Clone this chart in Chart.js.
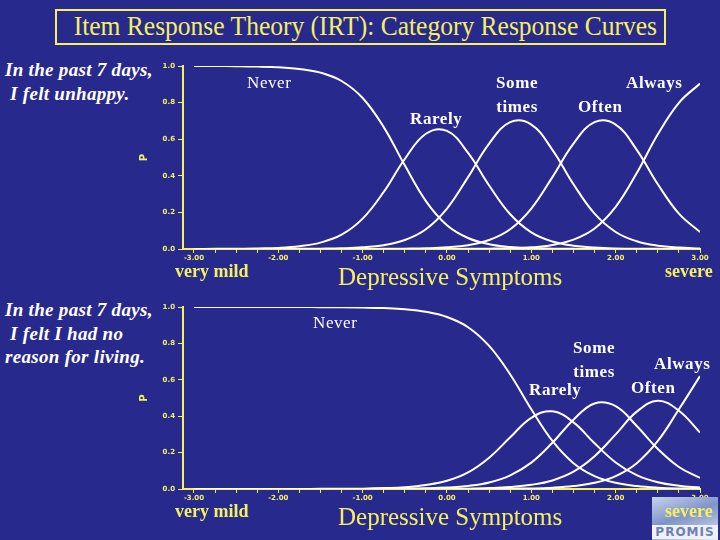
<!DOCTYPE html>
<html lang="en">
<head>
<meta charset="UTF-8">
<title>IRT Category Response Curves</title>
<script src="https://cdn.jsdelivr.net/npm/chart.js"></script>
<style>
    body {
        margin: 0;
        width: 720px;
        height: 540px;
        background: #28298c;
        position: relative;
        overflow: hidden;
        font-family: "Liberation Serif", "DejaVu Serif", serif;
    }
    .abs { position: absolute; white-space: nowrap; }
    #title {
        left: 55px; top: 9px; width: 607px; height: 32px;
        border: 2px solid #f5f060;
    }
    #title span {
        position: absolute; left: 0; top: -1px; width: 607px;
        color: #f5f060;
        font-size: 27px;
        line-height: 32px;
        text-align: center;
        transform: scaleX(0.945);
    }
    .question {
        color: #fff;
        font-weight: bold;
        font-style: italic;
        font-size: 19px;
        line-height: 23.5px;
        letter-spacing: 0.3px;
    }
    .yellow { color: #f5f060; }
    .bold { font-weight: bold; font-size: 18px; }
    .axis-title { font-size: 25px; }
    .curve {
        color: #fff;
        font-weight: bold;
        font-size: 17px;
        line-height: 24px;
        text-align: center;
        letter-spacing: 0.6px;
    }
    canvas { position: absolute; }
    #logo {
        left: 652px; top: 497px; width: 66px; height: 43px;
        background: linear-gradient(160deg, #c8d4ec 0%, #7f93c8 45%, #aab8de 70%, #e8ecf6 100%);
    }
    #logo span {
        position: absolute; left: 0; bottom: 1px; width: 66px;
        text-align: center;
        font-family: "DejaVu Sans", sans-serif;
        font-weight: bold;
        font-size: 12px;
        letter-spacing: 1px;
        color: #6d7fb4;
        background: #eef1f8;
    }
</style>
</head>
<body>

<div id="title" class="abs"><span>Item Response Theory (IRT): Category Response Curves</span></div>

<div class="abs question" style="left:5px; top:58px;">In the past 7 days,<br>&nbsp;I felt unhappy.</div>
<div class="abs question" style="left:5px; top:298px;">In the past 7 days,<br>&nbsp;I felt I had no<br>reason for living.</div>

<canvas id="chart1" width="590" height="215" style="left:130px; top:55px;"></canvas>
<canvas id="chart2" width="590" height="215" style="left:130px; top:295px;"></canvas>

<div id="logo" class="abs"><span>PROMIS</span></div>

<!-- axis captions -->
<div class="abs yellow bold" style="left:175px; top:261px;">very mild</div>
<div class="abs yellow axis-title" style="left:338px; top:263px;">Depressive Symptoms</div>
<div class="abs yellow bold" style="left:665px; top:261px;">severe</div>
<div class="abs yellow bold" style="left:175px; top:501px;">very mild</div>
<div class="abs yellow axis-title" style="left:338px; top:503px;">Depressive Symptoms</div>
<div class="abs yellow bold" style="left:665px; top:501px;">severe</div>

<!-- curve labels, chart 1 -->
<div class="abs curve" style="left:247px; top:71px; font-weight:normal;">Never</div>
<div class="abs curve" style="left:410px; top:107px;">Rarely</div>
<div class="abs curve" style="left:496px; top:71px;">Some<br>times</div>
<div class="abs curve" style="left:578px; top:95px;">Often</div>
<div class="abs curve" style="left:626px; top:71px;">Always</div>

<!-- curve labels, chart 2 -->
<div class="abs curve" style="left:313px; top:311px; font-weight:normal;">Never</div>
<div class="abs curve" style="left:573px; top:336px;">Some<br>times</div>
<div class="abs curve" style="left:654px; top:352px;">Always</div>
<div class="abs curve" style="left:631px; top:376px;">Often</div>
<div class="abs curve" style="left:529px; top:378px;">Rarely</div>

<script>
    // theta grid (depressive symptoms, logits)
    const theta = [-3, -2.75, -2.5, -2.25, -2, -1.75, -1.5, -1.25, -1, -0.75, -0.5, -0.25,
                   0, 0.25, 0.5, 0.75, 1, 1.25, 1.5, 1.75, 2, 2.25, 2.5, 2.75, 3];

    const xTickLabels = ['-3.00', '-2.00', '-1.00', '0.00', '1.00', '2.00', '3.00'];

    // item 1: "I felt unhappy"
    const never1     = [1.000, 1.000, 0.999, 0.997, 0.993, 0.984, 0.964, 0.918, 0.825, 0.666, 0.457, 0.262,
                        0.130, 0.060, 0.026, 0.011, 0.005, 0.002, 0.001, 0.000, 0.000, 0.000, 0.000, 0.000, 0.000];
    const rarely1    = [0.000, 0.001, 0.001, 0.003, 0.006, 0.015, 0.035, 0.078, 0.166, 0.312, 0.492, 0.630,
                        0.645, 0.525, 0.347, 0.190, 0.091, 0.041, 0.018, 0.008, 0.003, 0.001, 0.001, 0.000, 0.000];
    const sometimes1 = [0.000, 0.000, 0.000, 0.000, 0.000, 0.001, 0.002, 0.004, 0.009, 0.021, 0.049, 0.108,
                        0.221, 0.393, 0.576, 0.693, 0.680, 0.542, 0.354, 0.193, 0.093, 0.042, 0.018, 0.008, 0.003];
    const often1     = [0.000, 0.000, 0.000, 0.000, 0.000, 0.000, 0.000, 0.000, 0.000, 0.001, 0.002, 0.004,
                        0.009, 0.021, 0.049, 0.108, 0.221, 0.393, 0.576, 0.693, 0.680, 0.542, 0.354, 0.193, 0.093];
    const always1    = [0.000, 0.000, 0.000, 0.000, 0.000, 0.000, 0.000, 0.000, 0.000, 0.000, 0.000, 0.000,
                        0.000, 0.001, 0.002, 0.004, 0.009, 0.022, 0.051, 0.112, 0.230, 0.415, 0.627, 0.799, 0.904];

    // item 2: "I felt I had no reason for living"
    const never2     = [1.000, 1.000, 1.000, 1.000, 1.000, 1.000, 0.999, 0.999, 0.997, 0.994, 0.988, 0.974,
                        0.945, 0.889, 0.786, 0.629, 0.438, 0.264, 0.142, 0.071, 0.034, 0.016, 0.007, 0.003, 0.002];
    const rarely2    = [0.000, 0.000, 0.000, 0.000, 0.000, 0.000, 0.001, 0.001, 0.002, 0.005, 0.010, 0.022,
                        0.045, 0.091, 0.172, 0.284, 0.391, 0.427, 0.366, 0.251, 0.146, 0.076, 0.037, 0.018, 0.008];
    const sometimes2 = [0.000, 0.000, 0.000, 0.000, 0.000, 0.000, 0.000, 0.000, 0.000, 0.001, 0.002, 0.004,
                        0.008, 0.017, 0.036, 0.075, 0.145, 0.254, 0.381, 0.470, 0.455, 0.346, 0.220, 0.121, 0.061];
    const often2     = [0.000, 0.000, 0.000, 0.000, 0.000, 0.000, 0.000, 0.000, 0.000, 0.000, 0.000, 0.001,
                        0.001, 0.002, 0.005, 0.011, 0.023, 0.047, 0.095, 0.180, 0.300, 0.425, 0.485, 0.430, 0.310];
    const always2    = [0.000, 0.000, 0.000, 0.000, 0.000, 0.000, 0.000, 0.000, 0.000, 0.000, 0.000, 0.000,
                        0.000, 0.000, 0.001, 0.002, 0.003, 0.007, 0.016, 0.034, 0.071, 0.142, 0.264, 0.438, 0.620];

    const yellow = '#f5f060';

    function toPoints(values) {
        return values.map((v, i) => ({ x: theta[i], y: v }));
    }

    function makeChart(id, series, topPad) {
        const ctx = document.getElementById(id).getContext('2d');
        return new Chart(ctx, {
            type: 'line',
            data: {
                datasets: series.map(s => ({
                    data: toPoints(s),
                    borderColor: '#ffffff',
                    borderWidth: 2,
                    pointRadius: 0,
                    fill: false,
                    tension: 0.4
                }))
            },
            options: {
                responsive: false,
                animation: false,
                events: [],
                layout: { padding: { top: topPad, right: 20, left: 0, bottom: 0 } },
                plugins: { legend: { display: false }, tooltip: { enabled: false } },
                scales: {
                    x: {
                        type: 'linear',
                        min: -3.13,
                        max: 3,
                        afterBuildTicks: scale => {
                            scale.ticks = theta.map(v => ({ value: v }));
                        },
                        afterFit: scale => { scale.height = 21; },
                        grid: { display: true, drawOnChartArea: false, color: yellow, tickLength: 4, lineWidth: 1 },
                        border: { display: true, color: yellow, width: 2 },
                        ticks: {
                            autoSkip: false,
                            maxRotation: 0,
                            padding: 1,
                            color: yellow,
                            font: { family: 'DejaVu Sans', size: 7, weight: 'bold' },
                            callback: v => Number.isInteger(v) ? xTickLabels[v + 3] : ''
                        }
                    },
                    y: {
                        min: 0,
                        max: 1,
                        afterFit: scale => { scale.width = 53; },
                        grid: { display: true, drawOnChartArea: false, color: yellow, tickLength: 5, lineWidth: 1 },
                        border: { display: true, color: yellow, width: 2 },
                        title: {
                            display: true,
                            text: 'P',
                            color: yellow,
                            padding: { top: 8, bottom: 0 },
                            font: { family: 'DejaVu Sans', size: 10, weight: 'bold' }
                        },
                        ticks: {
                            stepSize: 0.2,
                            padding: 3,
                            color: yellow,
                            font: { family: 'DejaVu Sans', size: 7, weight: 'bold' },
                            callback: v => v.toFixed(1)
                        }
                    }
                }
            }
        });
    }

    makeChart('chart1', [never1, rarely1, sometimes1, often1, always1], 11);
    makeChart('chart2', [never2, rarely2, sometimes2, often2, always2], 12);
</script>

</body>
</html>
